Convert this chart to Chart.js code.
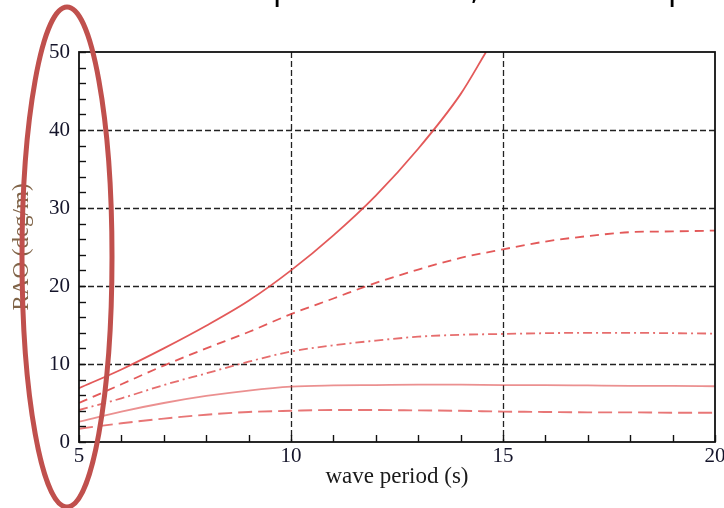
<!DOCTYPE html>
<html>
<head>
<meta charset="utf-8">
<script src="https://cdn.jsdelivr.net/npm/chart.js@4.4.1/dist/chart.umd.min.js"></script>
<style>
    html, body { margin: 0; padding: 0; background: #fff; overflow: hidden; }
    #wrap { position: absolute; left: 0; top: 0; width: 740px; height: 508px; }
</style>
</head>
<body>
<div id="wrap"><canvas id="rao"></canvas></div>
<script>
// --- values ---
const periods = [5, 6, 7, 8, 9, 10, 11, 12, 13, 14, 15, 16, 17, 18, 19, 20];
const steepPeriods = [5, 6, 7, 8, 9, 10, 11, 12, 13, 14, 14.6];
const raoSteep = [6.9, 9.3, 12.0, 14.9, 18.1, 22.0, 26.5, 31.6, 37.6, 44.6, 50];
const raoDashed = [5.0, 7.4, 9.8, 12.0, 14.1, 16.4, 18.4, 20.4, 22.1, 23.6, 24.7, 25.7, 26.4, 26.9, 27.0, 27.1];
const raoDashDot = [4.1, 5.6, 7.3, 8.8, 10.3, 11.6, 12.4, 13.0, 13.5, 13.75, 13.85, 13.95, 14.0, 14.0, 13.95, 13.9];
const raoSolid = [2.6, 3.9, 5.0, 5.9, 6.6, 7.1, 7.25, 7.3, 7.35, 7.35, 7.3, 7.3, 7.25, 7.2, 7.2, 7.15];
const raoLongDash = [1.7, 2.4, 3.0, 3.5, 3.85, 4.0, 4.1, 4.1, 4.05, 4.0, 3.9, 3.85, 3.8, 3.8, 3.75, 3.75];
const xTicks = [5, 10, 15, 20];
const yTicks = [0, 10, 20, 30, 40, 50];
const topGlyphs = [['p', 273], [',', 471], ['p', 668]];

function pts(xs, ys) {
    return xs.map(function (x, i) { return { x: x, y: ys[i] }; });
}

function series(data, color, width, dash) {
    return {
        data: data,
        borderColor: color,
        borderWidth: width,
        borderDash: dash,
        pointRadius: 0,
        fill: false,
        cubicInterpolationMode: 'monotone'
    };
}

// frame, dashed grid, inner ticks, ellipse mark and clipped heading glyphs
const framePlugin = {
    id: 'frame',
    beforeDatasetsDraw(chart) {
        const { ctx, chartArea: a, scales: { x, y } } = chart;
        ctx.save();
        ctx.strokeStyle = '#222';
        ctx.lineWidth = 1.3;
        ctx.setLineDash([6, 3]);
        yTicks.slice(1, -1).forEach(function (v) {
            const py = Math.round(y.getPixelForValue(v)) + 0.5;
            ctx.beginPath(); ctx.moveTo(a.left, py); ctx.lineTo(a.right, py); ctx.stroke();
        });
        xTicks.slice(1, -1).forEach(function (v) {
            const px = Math.round(x.getPixelForValue(v)) + 0.5;
            ctx.beginPath(); ctx.moveTo(px, a.top); ctx.lineTo(px, a.bottom); ctx.stroke();
        });
        ctx.restore();
    },
    afterDatasetsDraw(chart) {
        const { ctx, chartArea: a, scales: { x, y } } = chart;
        ctx.save();
        ctx.strokeStyle = '#111';
        ctx.lineWidth = 1.8;
        ctx.strokeRect(a.left, a.top, a.right - a.left, a.bottom - a.top);
        ctx.lineWidth = 1.4;
        for (let v = 0; v <= 50; v += 2) {
            const py = Math.round(y.getPixelForValue(v)) + 0.5;
            ctx.beginPath(); ctx.moveTo(a.left, py); ctx.lineTo(a.left + 7, py); ctx.stroke();
        }
        for (let v = 5; v <= 20; v += 1) {
            const px = Math.round(x.getPixelForValue(v)) + 0.5;
            ctx.beginPath(); ctx.moveTo(px, a.bottom); ctx.lineTo(px, a.bottom - 7); ctx.stroke();
        }
        ctx.restore();
    },
    afterDraw(chart) {
        const ctx = chart.ctx;
        ctx.save();
        ctx.fillStyle = '#000';
        ctx.font = '32px "Noto Sans"';
        ctx.textBaseline = 'alphabetic';
        topGlyphs.forEach(function (g) { ctx.fillText(g[0], g[1], -1); });
        ctx.strokeStyle = '#c0504d';
        ctx.lineWidth = 5;
        ctx.beginPath();
        ctx.ellipse(67, 257, 45, 250, 0, 0, Math.PI * 2);
        ctx.stroke();
        ctx.restore();
    }
};

new Chart(document.getElementById('rao').getContext('2d'), {
    type: 'line',
    data: {
        datasets: [
            series(pts(steepPeriods, raoSteep), 'rgba(222,60,60,0.85)', 1.8, []),
            series(pts(periods, raoDashed), 'rgba(222,60,60,0.85)', 1.8, [9, 6]),
            series(pts(periods, raoDashDot), 'rgba(222,60,60,0.75)', 1.8, [9, 4, 2, 4]),
            series(pts(periods, raoSolid), 'rgba(222,70,70,0.6)', 1.8, []),
            series(pts(periods, raoLongDash), 'rgba(222,60,60,0.7)', 1.9, [14, 6])
        ]
    },
    options: {
        responsive: true,
        maintainAspectRatio: false,
        animation: false,
        layout: { padding: { top: 52, right: 25, bottom: 0, left: 0 } },
        plugins: { legend: { display: false }, tooltip: { enabled: false } },
        scales: {
            x: {
                type: 'linear',
                min: 5,
                max: 20,
                afterFit(s) { s.height = 66; },
                afterBuildTicks(s) { s.ticks = xTicks.map(function (v) { return { value: v }; }); },
                grid: { display: false },
                border: { display: false },
                ticks: {
                    padding: -6,
                    color: '#14142a',
                    font: { family: 'Liberation Serif', size: 21 },
                    maxRotation: 0
                },
                title: {
                    display: true,
                    text: 'wave period (s)',
                    color: '#1a1a1a',
                    font: { family: 'Liberation Serif', size: 23 },
                    padding: { top: 0, bottom: 17 }
                }
            },
            y: {
                min: 0,
                max: 50,
                afterFit(s) { s.width = 79; },
                afterBuildTicks(s) { s.ticks = yTicks.map(function (v) { return { value: v }; }); },
                grid: { display: false },
                border: { display: false },
                ticks: {
                    padding: 1,
                    color: '#14142a',
                    font: { family: 'Liberation Serif', size: 21 }
                },
                title: {
                    display: true,
                    text: 'RAO (deg/m)',
                    color: '#806448',
                    font: { family: 'Liberation Serif', size: 23 },
                    padding: { top: 8, bottom: 0 }
                }
            }
        }
    },
    plugins: [framePlugin]
});
</script>
</body>
</html>
